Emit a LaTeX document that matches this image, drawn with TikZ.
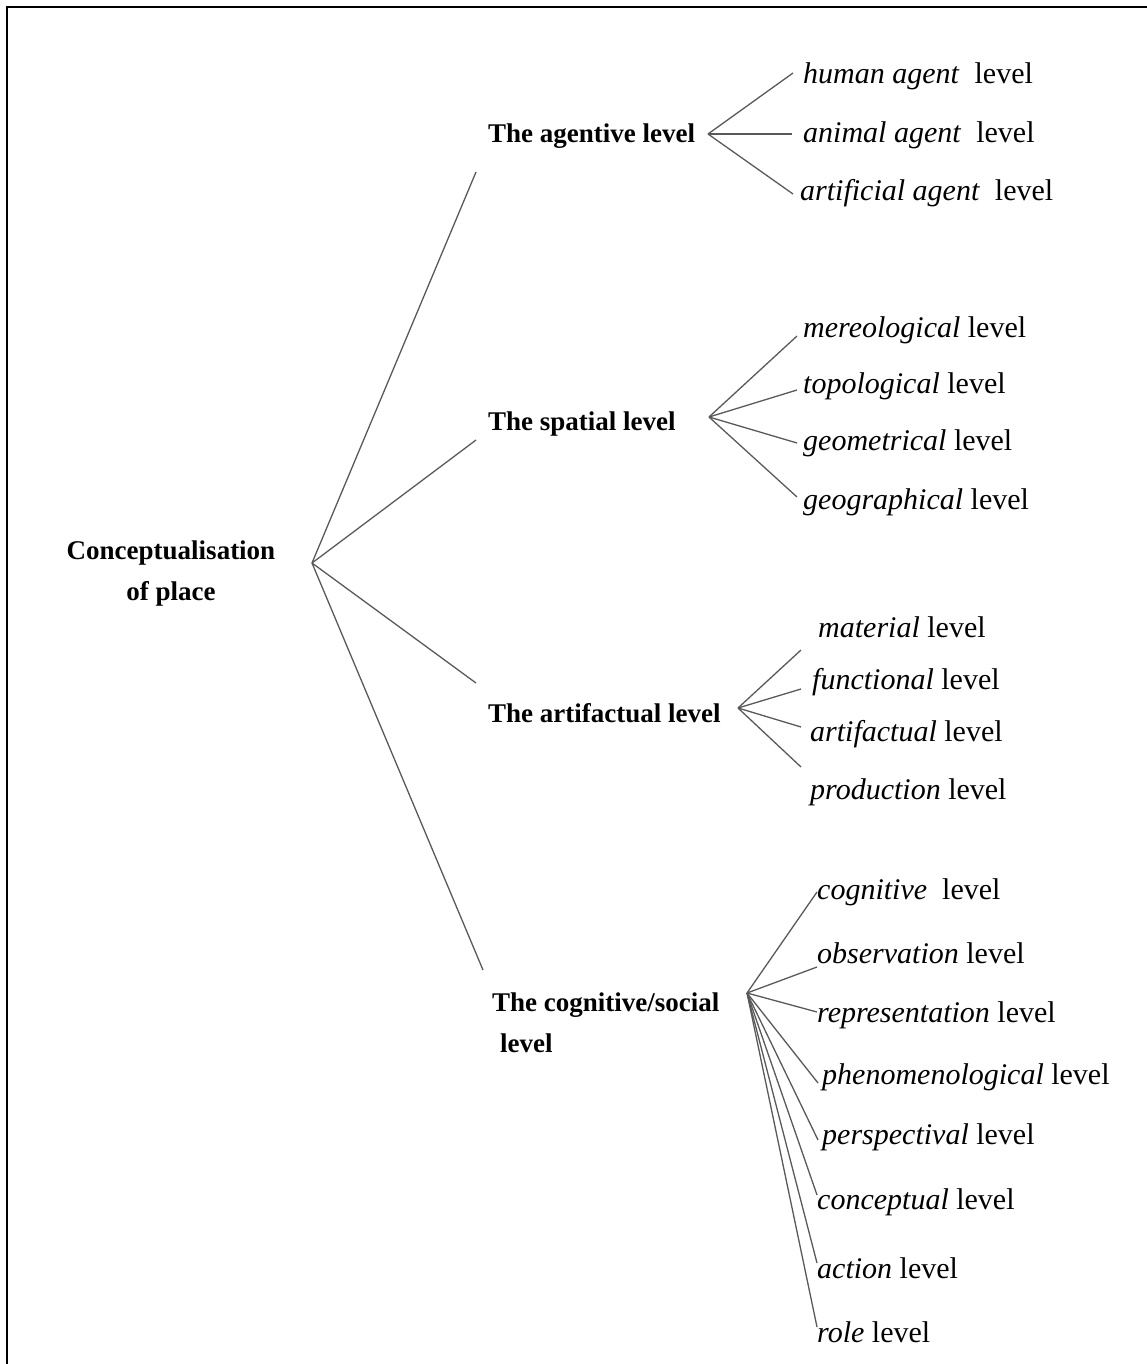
\documentclass[tikz,border=0pt]{standalone}
\usepackage{fontspec}
\setmainfont{Liberation Serif}
\begin{document}
\begin{tikzpicture}[x=1pt,y=-1pt,
    levelbox/.style={anchor=west,inner sep=0pt,yshift=-3pt,align=left,font=\fontsize{27}{41}\selectfont\bfseries},
    leafbox/.style={anchor=west,inner sep=0pt,yshift=-3pt,font=\fontsize{30}{36}\selectfont},
    branch/.style={draw=black!65,line width=1.3pt}]
  \useasboundingbox (0,0) rectangle (1147,1364);
  \draw[line width=2pt] (7,1370) -- (7,7) -- (1150,7);

  % root and main levels
  \node[align=center,inner sep=0pt,yshift=-3pt,font=\fontsize{27}{41}\selectfont\bfseries] (place) at (171,571) {Conceptualisation\\of place};
  \coordinate (hub) at (312,563);
  \node[levelbox] (agentive) at (488,133) {The agentive level};
  \node[levelbox] (spatial) at (488,421) {The spatial level};
  \node[levelbox] (artifactual) at (488,710) {The artifactual level};
  \node[levelbox] (social) at (492,1020) {The cognitive/social\\\hspace{8pt}level};
  \coordinate (agentiveIn) at (476,172);
  \coordinate (spatialIn) at (476,440);
  \coordinate (artifactualIn) at (476,683);
  \coordinate (socialIn) at (483,970);
  \begin{scope}[branch]
    \draw (hub) -- (agentiveIn);
    \draw (hub) -- (spatialIn);
    \draw (hub) -- (artifactualIn);
    \draw (hub) -- (socialIn);
  \end{scope}

  % agentive
  \coordinate (agentiveFan) at (708,134);
  \node[leafbox] (human) at (803,73) {\textit{human agent}\ \ level};
  \node[leafbox] (animal) at (803,132) {\textit{animal agent}\ \ level};
  \node[leafbox] (artificial) at (800,190) {\textit{artificial agent}\ \ level};
  \begin{scope}[branch]
    \draw (agentiveFan) -- (793,73);
    \draw (agentiveFan) -- (792,134);
    \draw (agentiveFan) -- (793,194);
  \end{scope}

  % spatial
  \coordinate (spatialFan) at (709,417);
  \node[leafbox] (mereo) at (803,327) {\textit{mereological} level};
  \node[leafbox] (topo) at (803,383) {\textit{topological} level};
  \node[leafbox] (geom) at (803,440) {\textit{geometrical} level};
  \node[leafbox] (geog) at (803,499) {\textit{geographical} level};
  \begin{scope}[branch]
    \draw (spatialFan) -- (797,336);
    \draw (spatialFan) -- (797,390);
    \draw (spatialFan) -- (797,443);
    \draw (spatialFan) -- (797,497);
  \end{scope}

  % artifactual
  \coordinate (artifactualFan) at (738,708);
  \node[leafbox] (material) at (818,624) {\textit{material} level};
  \node[leafbox] (functional) at (812,679) {\textit{functional} level};
  \node[leafbox] (artefact) at (810,731) {\textit{artifactual} level};
  \node[leafbox] (production) at (810,789) {\textit{production} level};
  \begin{scope}[branch]
    \draw (artifactualFan) -- (801,650);
    \draw (artifactualFan) -- (801,689);
    \draw (artifactualFan) -- (801,727);
    \draw (artifactualFan) -- (801,767);
  \end{scope}

  % cognitive/social
  \coordinate (socialFan) at (747,993);
  \node[leafbox] (cognitive) at (817,889) {\textit{cognitive}\ \ level};
  \node[leafbox] (observation) at (817,950) {\textit{observation} level};
  \node[leafbox] (representation) at (817,1012) {\textit{representation} level};
  \node[leafbox] (phenomeno) at (822,1074) {\textit{phenomenological} level};
  \node[leafbox] (perspectival) at (822,1134) {\textit{perspectival} level};
  \node[leafbox] (conceptual) at (817,1199) {\textit{conceptual} level};
  \node[leafbox] (action) at (817,1265) {\textit{action} level};
  \node[leafbox] (role) at (817,1329) {\textit{role} level};
  \begin{scope}[branch]
    \draw (socialFan) -- (817,892);
    \draw (socialFan) -- (817,967);
    \draw (socialFan) -- (817,1012);
    \draw (socialFan) -- (818,1083);
    \draw (socialFan) -- (818,1140);
    \draw (socialFan) -- (817,1195);
    \draw (socialFan) -- (817,1263);
    \draw (socialFan) -- (817,1327);
  \end{scope}
\end{tikzpicture}
\end{document}
